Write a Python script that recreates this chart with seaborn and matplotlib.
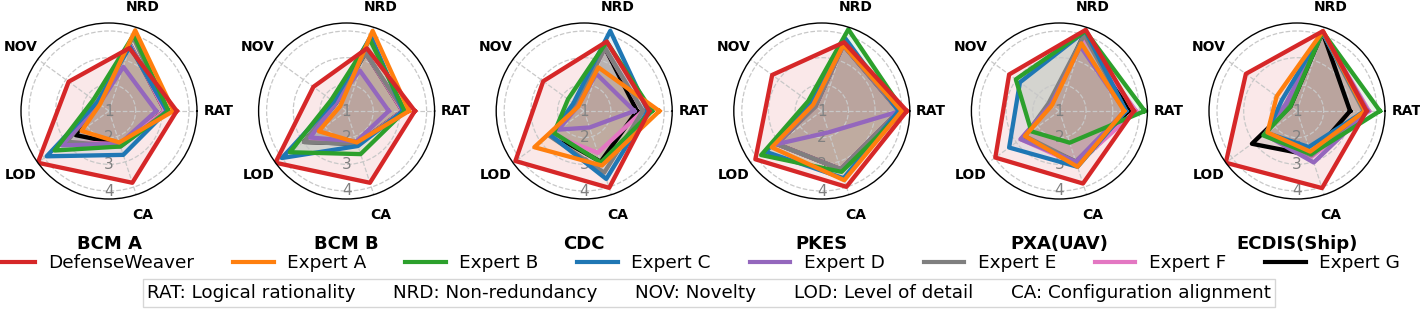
import numpy as np
import pandas as pd
import seaborn as sns
import matplotlib.pyplot as plt
from matplotlib.lines import Line2D

## Data
criteria = ["RAT", "NRD", "NOV", "LOD", "CA"]
methods = ["DefenseWeaver", "Expert A", "Expert B", "Expert C",
           "Expert D", "Expert E", "Expert F", "Expert G"]
scenarios = ["BCM A", "BCM B", "CDC", "PKES", "PXA(UAV)", "ECDIS(Ship)"]
descriptions = ["RAT: Logical rationality", "NRD: Non-redundancy", "NOV: Novelty",
                "LOD: Level of detail", "CA: Configuration alignment"]

# rows follow `methods`, columns follow `criteria`
bcm_a = [[3.54, 3.48, 2.87, 4.30, 3.83],
         [3.42, 4.18, 1.42, 2.27, 2.24],
         [3.23, 4.00, 1.72, 3.52, 2.40],
         [3.17, 3.55, 1.55, 3.89, 2.73],
         [2.77, 2.74, 1.45, 3.19, 2.30],
         [3.17, 3.92, 1.50, 2.96, 2.40],
         [3.10, 3.60, 1.60, 3.00, 2.30],
         [3.10, 3.60, 1.60, 2.54, 2.30]]
bcm_b = [[3.56, 3.47, 2.54, 4.30, 3.83],
         [3.34, 4.16, 1.30, 2.29, 2.24],
         [3.18, 3.82, 1.71, 3.63, 2.70],
         [3.12, 3.95, 1.60, 4.00, 2.38],
         [2.58, 2.60, 1.50, 2.69, 2.20],
         [3.15, 3.30, 1.50, 2.98, 2.30],
         [3.10, 3.30, 1.70, 2.80, 2.30],
         [3.10, 3.30, 1.50, 2.97, 2.30]]
cdc = [[3.44, 3.74, 2.90, 4.19, 4.03],
       [3.82, 2.72, 1.28, 3.31, 3.15],
       [3.54, 3.73, 1.75, 2.40, 3.03],
       [3.39, 4.16, 1.50, 2.55, 3.68],
       [2.88, 2.47, 1.30, 2.19, 1.65],
       [3.20, 3.50, 1.40, 2.60, 3.43],
       [3.20, 3.50, 1.40, 2.50, 2.65],
       [2.98, 3.50, 1.40, 2.50, 3.00]]
pkes = [[4.19, 3.71, 3.30, 4.08, 3.99],
        [4.00, 3.60, 1.40, 3.32, 3.73],
        [4.06, 4.22, 1.63, 3.81, 3.40],
        [3.88, 3.86, 1.50, 3.60, 3.65],
        [3.95, 3.65, 1.40, 3.13, 1.84],
        [3.90, 3.60, 1.30, 3.10, 3.30],
        [3.90, 3.60, 1.30, 3.10, 3.30],
        [3.90, 3.60, 1.30, 3.10, 3.30]]
pxa_uav = [[3.79, 4.20, 3.33, 3.97, 3.86],
           [3.43, 3.67, 1.35, 2.60, 3.20],
           [4.20, 4.15, 3.02, 2.30, 2.25],
           [3.50, 4.15, 2.83, 3.33, 3.20],
           [3.46, 3.55, 1.40, 2.80, 3.00],
           [3.50, 4.00, 1.50, 2.60, 3.00],
           [3.87, 3.90, 1.40, 2.80, 3.10],
           [3.60, 4.10, 1.40, 2.70, 3.00]]
ecdis_ship = [[3.61, 4.15, 3.37, 4.30, 4.04],
              [3.55, 4.15, 1.94, 2.37, 2.60],
              [4.11, 4.12, 1.30, 2.56, 2.70],
              [3.55, 4.10, 1.70, 2.40, 2.42],
              [3.65, 4.10, 1.50, 2.50, 3.03],
              [3.50, 4.10, 1.40, 2.50, 2.75],
              [3.70, 4.10, 1.40, 2.50, 2.80],
              [2.99, 4.10, 1.30, 3.09, 2.75]]
scores = [bcm_a, bcm_b, cdc, pkes, pxa_uav, ecdis_ship]

tab = sns.color_palette("tab10")
palette = {"DefenseWeaver": tab[3], "Expert A": tab[1], "Expert B": tab[2],
           "Expert C": tab[0], "Expert D": tab[4], "Expert E": tab[7],
           "Expert F": tab[6], "Expert G": "black"}

angles = np.linspace(0, 2 * np.pi, len(criteria), endpoint=False)
closed = np.append(angles, 2 * np.pi)
r_min, r_max = 1, 4.3
label_r = r_max + 0.8   # axis names sit outside the outer ring

#-----------------------------------------Generate plots-------------------------------------------------#
fig = plt.figure(figsize=(14.2, 3.11), dpi=100)

for i, (name, table) in enumerate(zip(scenarios, scores)):
    cx = 109 + i * 237.6
    ax = fig.add_axes([(cx - 88) / 1420, (311 - 111 - 88) / 311, 176 / 1420, 176 / 311],
                      projection="polar")
    rows = []
    for m, vals in zip(methods, table):
        for a, v in zip(closed, list(vals) + [vals[0]]):
            rows.append({"method": m, "theta": a, "score": v})
    df = pd.DataFrame(rows)
    # red drawn last so it sits on top
    sns.lineplot(data=df, x="theta", y="score", hue="method", hue_order=methods[::-1],
                 palette=palette, sort=False, estimator=None, linewidth=3.1,
                 legend=False, ax=ax)
    for m in methods[::-1]:
        sub = df[df.method == m]
        ax.fill(sub.theta, sub.score, color=palette[m], alpha=0.1, zorder=1)
    ax.set(xlabel=None, ylabel=None)
    ax.set_ylim(r_min, r_max)
    ax.set_xticks(angles)
    ax.set_xticklabels([])
    for a, c in zip(angles, criteria):
        ax.text(a, label_r, c, ha="center", va="center", fontweight="bold",
                fontsize=10, clip_on=False)
    ax.set_yticks([1, 2, 3, 4])
    ax.set_yticklabels(["1", "2", "3", "4"], color="grey", fontsize=11)
    ax.set_rlabel_position(270)
    for lbl in ax.get_yticklabels():
        lbl.set_ha("center")
        lbl.set_va("center")
    ax.grid(True, color="#c8c8c8", linestyle="--", linewidth=0.9)
    ax.spines["polar"].set_color("black")
    ax.spines["polar"].set_linewidth(1.0)
    ax.text(0.5, 1 - (244 - 23) / 176, name, transform=ax.transAxes, ha="center",
            va="center", fontweight="bold", fontsize=13)

# Legend of methods
handles = [Line2D([0], [0], color=palette[m], lw=3) for m in methods]
fig.legend(handles, methods, loc="center", bbox_to_anchor=(697 / 1420, 1 - 263 / 311),
           ncol=8, frameon=False, fontsize=13.3, handlelength=2.2,
           handletextpad=0.73, columnspacing=2.1, borderaxespad=0, borderpad=0)

# Legend box of abbreviations
blank = [Line2D([], [], linestyle="none") for _ in descriptions]
fig.legend(blank, descriptions, loc="center", bbox_to_anchor=(709 / 1420, 1 - 293 / 311),
           ncol=5, fontsize=13.2, handlelength=0, handletextpad=0, columnspacing=2.05,
           fancybox=False, edgecolor="#cccccc", borderpad=0.25)

plt.savefig("out.png", dpi=100)
plt.close()
